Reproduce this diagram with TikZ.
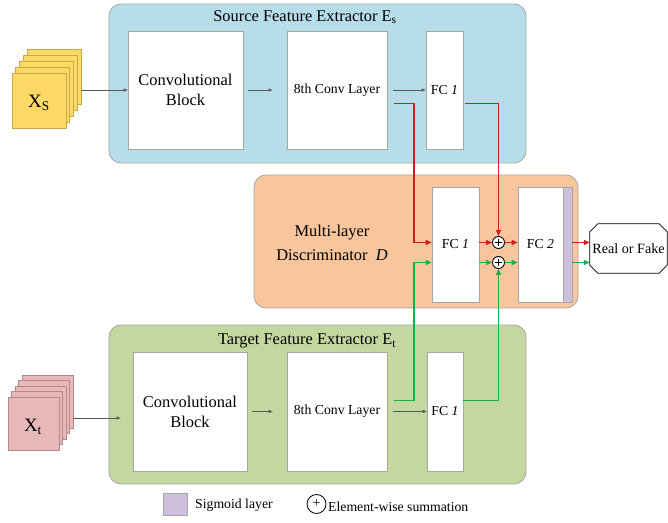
\documentclass[tikz,border=0pt]{standalone}
\usepackage{fontspec}
\setmainfont{Liberation Serif}
\usetikzlibrary{arrows.meta,calc}
\definecolor{srcblue}{HTML}{B7DDE8}
\definecolor{discor}{HTML}{F8C59D}
\definecolor{tgtgreen}{HTML}{C4D7A0}
\definecolor{sigpurple}{HTML}{CCC0DA}
\definecolor{xsyellow}{HTML}{FFD966}
\definecolor{xsedge}{HTML}{C9A84A}
\definecolor{xtpink}{HTML}{E6B9B8}
\definecolor{xtedge}{HTML}{B58988}
\definecolor{redln}{HTML}{CC1F1F}
\definecolor{greenln}{HTML}{12B24A}
\definecolor{boxedge}{HTML}{A6A6A6}
\begin{document}
\begin{tikzpicture}[x=1bp,y=-1bp,
  panel/.style={draw=boxedge, rounded corners=12bp, line width=0.8bp, inner sep=0pt},
  blk/.style={draw=boxedge, fill=white, inner sep=0pt, align=center, line width=0.6bp},
  bigtxt/.style={font=\fontsize{16.5}{20}\selectfont},
  smalltxt/.style={font=\fontsize{13.8}{16}\selectfont},
  xsq/.style={draw=xsedge, fill=xsyellow, minimum width=54bp, minimum height=55bp, inner sep=0pt, line width=0.6bp},
  xtsq/.style={draw=xtedge, fill=xtpink, minimum width=51bp, minimum height=53bp, inner sep=0pt, line width=0.6bp},
  thinarrow/.style={draw=black!65, line width=0.6bp, -{Triangle[length=4bp,width=3bp]}},
  redarrow/.style={draw=redln, line width=1.6bp, -{Triangle[length=6bp,width=5bp]}},
  greenarrow/.style={draw=greenln, line width=1.6bp, -{Triangle[length=6bp,width=5bp]}},
  sumc/.style={circle, draw=black, line width=0.9bp, fill=white, minimum size=12bp, inner sep=0pt,
    path picture={\draw[line width=0.9bp]
      ([xshift=-3.6bp]path picture bounding box.center) -- ([xshift=3.6bp]path picture bounding box.center)
      ([yshift=-3.6bp]path picture bounding box.center) -- ([yshift=3.6bp]path picture bounding box.center);}}
]
\useasboundingbox (0,0) rectangle (668,523);

% panels
\node[panel, fill=srcblue, minimum width=417bp, minimum height=159bp] (src) at (317.5,83.5) {};
\node[panel, fill=discor, minimum width=324bp, minimum height=133bp] (disc) at (416,241.5) {};
\node[panel, fill=tgtgreen, minimum width=417bp, minimum height=159bp] (tgt) at (317.5,404.5) {};

\node[bigtxt] (srctitle) at (305,17) {Source Feature Extractor E\textsubscript{s}};
\node[bigtxt] (tgttitle) at (307,341) {Target Feature Extractor E\textsubscript{t}};
\node[align=center, font=\fontsize{16.5}{24}\selectfont] (disctitle) at (332,243) {Multi-layer\\Discriminator\ \ \textit{D}};

% source blocks
\node[blk, bigtxt, minimum width=115bp, minimum height=118bp] (sconv) at (185.5,90) {Convolutional\\Block};
\node[blk, smalltxt, minimum width=100bp, minimum height=118bp] (s8) at (337,90) {8th Conv Layer};
\node[blk, smalltxt, minimum width=37bp, minimum height=118bp] (sfc) at (444.5,90) {FC \textit{1}};

% target blocks
\node[blk, bigtxt, minimum width=114bp, minimum height=119bp] (tconv) at (190,411.5) {Convolutional\\Block};
\node[blk, smalltxt, minimum width=100bp, minimum height=119bp] (t8) at (337,411.5) {8th Conv Layer};
\node[blk, smalltxt, minimum width=36bp, minimum height=119bp] (tfc) at (445,411.5) {FC \textit{1}};

% discriminator blocks
\node[blk, smalltxt, minimum width=47bp, minimum height=115bp] (dfc) at (455.5,244.5) {FC \textit{1}};
\node[blk, smalltxt, minimum width=45bp, minimum height=115bp] (fc2) at (540.5,244.5) {FC \textit{2}};
\node[draw=boxedge, fill=sigpurple, line width=0.6bp, minimum width=9bp, minimum height=115bp, inner sep=0pt] (sig) at (567.5,244.5) {};

\node[sumc] (p1) at (498.5,242.5) {};
\node[sumc] (p2) at (498.5,262.5) {};

% Real or Fake (chamfered box)
\node[minimum width=77bp, minimum height=49bp, inner sep=0pt] (rof) at (628.5,248.5) {};
\filldraw[fill=white, draw=black, line width=0.8bp]
  ($(rof.north west)+(8,0)$) -- ($(rof.north east)+(-8,0)$) -- ($(rof.north east)+(0,8)$)
  -- ($(rof.south east)+(0,-8)$) -- ($(rof.south east)+(-8,0)$) -- ($(rof.south west)+(8,0)$)
  -- ($(rof.south west)+(0,-8)$) -- ($(rof.north west)+(0,8)$) -- cycle;
\node[font=\fontsize{14.2}{16}\selectfont] (roftxt) at (rof) {Real or Fake};

% input stacks
\foreach \i in {4,3,2,1,0} {
  \node[xsq] (xs\i) at ({39+3.75*\i},{100.5-6*\i}) {};
}
\node[font=\fontsize{19}{20}\selectfont] (xslab) at (39,103) {X\textsubscript{S}};
\foreach \i in {4,3,2,1,0} {
  \node[xtsq] (xt\i) at ({33.5+3.5*\i},{423.5-5.5*\i}) {};
}
\node[font=\fontsize{19}{20}\selectfont] (xtlab) at (33,427) {X\textsubscript{t}};

% thin arrows
\draw[thinarrow] (sconv.west -| xs4.east) -- (sconv.west);
\coordinate (tin) at ($(tconv.west)+(-12,6.5)$);
\draw[thinarrow] (tin -| xt4.east) -- (tin);
\draw[thinarrow, shorten <=5bp, shorten >=14bp] (sconv.east) -- (s8.west);
\draw[thinarrow, shorten <=6bp] (s8.east) -- (sfc.west);
\draw[thinarrow, shorten <=5bp, shorten >=14bp] (tconv.east) -- (t8.west);
\draw[thinarrow, shorten <=6bp] (t8.east) -- (tfc.west);

% red paths
\draw[redarrow] ($(s8.east)+(6.5,13.5)$) -- ++(20,0) |- (dfc.west |- p1);
\draw[redarrow] ($(sfc.east)+(2,13.5)$) -| (p1.north);
\draw[redarrow] (dfc.east |- p1) -- (p1.west);
\draw[redarrow] (p1.east) -- (fc2.west |- p1);
\draw[redarrow] (sig.east |- p1) -- (rof.west |- p1);

% green paths
\draw[greenarrow] ($(t8.east)+(6.5,-11)$) -- ++(20,0) |- (dfc.west |- p2);
\draw[greenarrow] ($(tfc.east)+(0,-11)$) -| (p2.south);
\draw[greenarrow] (dfc.east |- p2) -- (p2.west);
\draw[greenarrow] (p2.east) -- (fc2.west |- p2);
\draw[greenarrow] (sig.east |- p2) -- (rof.west |- p2);

% legend
\node[draw=boxedge, fill=sigpurple, line width=0.6bp, minimum width=24bp, minimum height=22bp, inner sep=0pt] (legsig) at (175,504) {};
\node[smalltxt, anchor=west, inner sep=0pt] (legsigtxt) at (195,505) {Sigmoid layer};
\node[circle, draw=black, line width=0.8bp, minimum size=19bp, inner sep=0pt, font=\fontsize{14}{14}\selectfont] (legsum) at (316.5,504) {+};
\node[smalltxt, anchor=west, inner sep=0pt] (legsumtxt) at (328,507) {Element-wise summation};
\end{tikzpicture}
\end{document}
